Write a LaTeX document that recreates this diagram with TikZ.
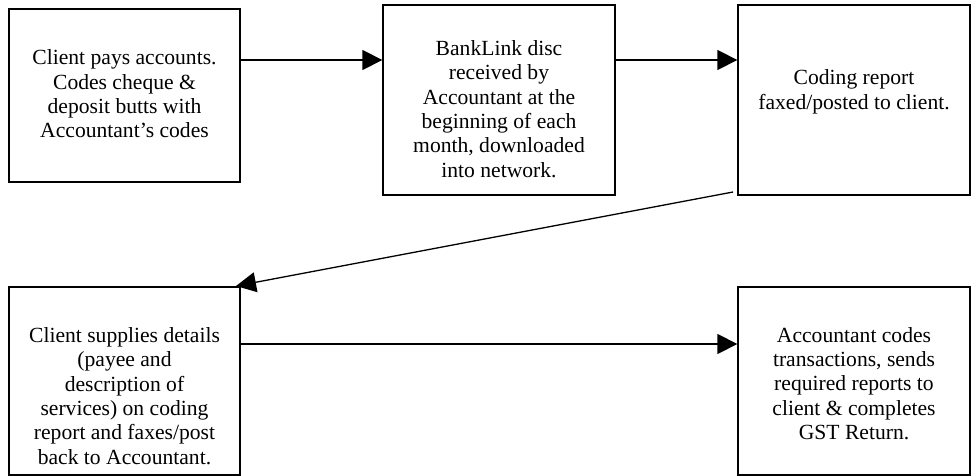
\documentclass[tikz,border=0pt]{standalone}
\usepackage{fontspec}
\setmainfont{Liberation Serif}
\usetikzlibrary{arrows.meta}
\begin{document}
\begin{tikzpicture}[x=1pt,y=-1pt,
  stepbox/.style={draw,line width=1.3pt,inner sep=0pt},
  steptext/.style={align=center,inner sep=0pt,font=\fontsize{21.6}{24.4}\selectfont},
  flow/.style={line width=1.3pt,-{Triangle[length=20pt,width=20pt]}}]
\useasboundingbox (0,0) rectangle (972,476);
% process boxes
\node[stepbox,minimum width=231pt,minimum height=173pt] (b1) at (124.5,95.5) {};
\node[stepbox,minimum width=232pt,minimum height=190pt] (b2) at (499,100) {};
\node[stepbox,minimum width=232pt,minimum height=190pt] (b3) at (854,100) {};
\node[stepbox,minimum width=231pt,minimum height=188pt] (b4) at (124.5,381) {};
\node[stepbox,minimum width=232pt,minimum height=188pt] (b5) at (854,381) {};
% box texts
\node[steptext] (t1) at (124.5,94) {Client pays accounts.\\Codes cheque \&\\deposit butts with\\Accountant’s codes};
\node[steptext] (t2) at (499,109) {BankLink disc\\received by\\Accountant at the\\beginning of each\\month, downloaded\\into network.};
\node[steptext] (t3) at (854,92) {Coding report\\faxed/posted to client.};
\node[steptext] (t4) at (124.5,396) {Client supplies details\\(payee and\\description of\\services) on coding\\report and faxes/post\\back to Accountant.};
\node[steptext] (t5) at (854,383.5) {Accountant codes\\transactions, sends\\required reports to\\client \& completes\\GST Return.};
% connectors
\coordinate (a1) at (b1.east |- 0,60);
\coordinate (a2) at (b2.west |- 0,60);
\coordinate (a3) at (b2.east |- 0,60);
\coordinate (a4) at (b3.west |- 0,60);
\coordinate (d1) at (733,192);
\coordinate (d2) at (236,286);
\coordinate (a5) at (b4.east |- 0,344);
\coordinate (a6) at (b5.west |- 0,344);
\draw[flow] (a1) -- (a2);
\draw[flow] (a3) -- (a4);
\draw[flow] (d1) -- (d2);
\draw[flow] (a5) -- (a6);
\end{tikzpicture}
\end{document}
